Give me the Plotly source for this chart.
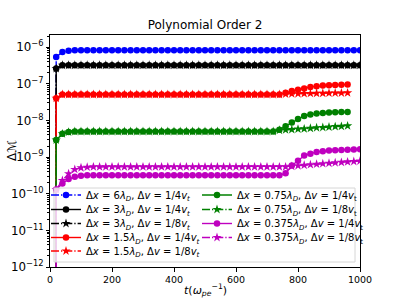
import plotly.graph_objects as go

# time grid (omega_pe^-1)
t = list(range(0, 1001, 20))

# Delta M values (first sample is zero)
blue_dx6_v4 = [0, 5.4e-7, 7.3e-7, 7.9e-7,
    8.2e-7, 8.2e-7, 8.2e-7, 8.2e-7, 8.2e-7, 8.2e-7, 8.2e-7, 8.2e-7, 8.2e-7, 8.2e-7,
    8.2e-7, 8.2e-7, 8.2e-7, 8.2e-7, 8.2e-7, 8.2e-7, 8.2e-7, 8.2e-7, 8.2e-7, 8.2e-7,
    8.2e-7, 8.2e-7, 8.2e-7, 8.2e-7, 8.2e-7, 8.2e-7, 8.2e-7, 8.2e-7, 8.2e-7, 8.2e-7,
    8.2e-7, 8.2e-7, 8.2e-7, 8.2e-7, 8.2e-7, 8.2e-7, 8.2e-7, 8.2e-7, 8.2e-7, 8.2e-7,
    8.2e-7, 8.2e-7, 8.2e-7, 8.2e-7, 8.2e-7, 8.2e-7, 8.2e-7]

black_dx3_v4 = [0, 2.6e-7,
    3.2e-7, 3.2e-7, 3.2e-7, 3.2e-7, 3.2e-7, 3.2e-7, 3.2e-7, 3.2e-7, 3.2e-7, 3.2e-7,
    3.2e-7, 3.2e-7, 3.2e-7, 3.2e-7, 3.2e-7, 3.2e-7, 3.2e-7, 3.2e-7, 3.2e-7, 3.2e-7,
    3.2e-7, 3.2e-7, 3.2e-7, 3.2e-7, 3.2e-7, 3.2e-7, 3.2e-7, 3.2e-7, 3.2e-7, 3.2e-7,
    3.2e-7, 3.2e-7, 3.2e-7, 3.2e-7, 3.2e-7, 3.2e-7, 3.2e-7, 3.2e-7, 3.2e-7, 3.2e-7,
    3.2e-7, 3.2e-7, 3.2e-7, 3.2e-7, 3.2e-7, 3.2e-7, 3.2e-7, 3.2e-7, 3.2e-7]

black_dx3_v8 = [0, 2.6e-7,
    3.2e-7, 3.2e-7, 3.2e-7, 3.2e-7, 3.2e-7, 3.2e-7, 3.2e-7, 3.2e-7, 3.2e-7, 3.2e-7,
    3.2e-7, 3.2e-7, 3.2e-7, 3.2e-7, 3.2e-7, 3.2e-7, 3.2e-7, 3.2e-7, 3.2e-7, 3.2e-7,
    3.2e-7, 3.2e-7, 3.2e-7, 3.2e-7, 3.2e-7, 3.2e-7, 3.2e-7, 3.2e-7, 3.2e-7, 3.2e-7,
    3.2e-7, 3.2e-7, 3.2e-7, 3.2e-7, 3.2e-7, 3.2e-7, 3.2e-7, 3.2e-7, 3.2e-7, 3.2e-7,
    3.2e-7, 3.2e-7, 3.2e-7, 3.2e-7, 3.2e-7, 3.2e-7, 3.2e-7, 3.2e-7, 3.2e-7]

red_dx15_v4 = [0, 4.0e-8,
    5.1e-8, 5.1e-8, 5.1e-8, 5.1e-8, 5.1e-8, 5.1e-8, 5.1e-8, 5.1e-8, 5.1e-8, 5.1e-8,
    5.1e-8, 5.1e-8, 5.1e-8, 5.1e-8, 5.1e-8, 5.1e-8, 5.1e-8, 5.1e-8, 5.1e-8, 5.1e-8,
    5.1e-8, 5.1e-8, 5.1e-8, 5.1e-8, 5.1e-8, 5.1e-8, 5.1e-8, 5.1e-8, 5.1e-8, 5.1e-8,
    5.1e-8, 5.1e-8, 5.1e-8, 5.1e-8, 5.1e-8, 5.1e-8,
    5.7e-8, 6.3e-8, 6.9e-8, 7.4e-8, 8.2e-8, 8.5e-8, 8.9e-8, 9.1e-8, 9.3e-8, 9.4e-8, 9.5e-8]

red_dx15_v8 = [0, 4.0e-8,
    5.1e-8, 5.1e-8, 5.1e-8, 5.1e-8, 5.1e-8, 5.1e-8, 5.1e-8, 5.1e-8, 5.1e-8, 5.1e-8,
    5.1e-8, 5.1e-8, 5.1e-8, 5.1e-8, 5.1e-8, 5.1e-8, 5.1e-8, 5.1e-8, 5.1e-8, 5.1e-8,
    5.1e-8, 5.1e-8, 5.1e-8, 5.1e-8, 5.1e-8, 5.1e-8, 5.1e-8, 5.1e-8, 5.1e-8, 5.1e-8,
    5.1e-8, 5.1e-8, 5.1e-8, 5.1e-8, 5.1e-8, 5.1e-8,
    5.2e-8, 5.3e-8, 5.35e-8, 5.4e-8, 5.45e-8, 5.5e-8, 5.5e-8, 5.55e-8, 5.6e-8, 5.6e-8, 5.65e-8]

green_dx075_v4 = [0, 2.9e-9, 4.3e-9, 4.8e-9,
    5.0e-9, 5.0e-9, 5.0e-9, 5.0e-9, 5.0e-9, 5.0e-9, 5.0e-9, 5.0e-9, 5.0e-9, 5.0e-9,
    5.0e-9, 5.0e-9, 5.0e-9, 5.0e-9, 5.0e-9, 5.0e-9, 5.0e-9, 5.0e-9, 5.0e-9, 5.0e-9,
    5.0e-9, 5.0e-9, 5.0e-9, 5.0e-9, 5.0e-9, 5.0e-9, 5.0e-9, 5.0e-9, 5.0e-9, 5.0e-9,
    5.0e-9, 5.0e-9, 5.0e-9,
    5.6e-9, 6.9e-9, 8.7e-9, 1.1e-8, 1.32e-8, 1.45e-8, 1.55e-8, 1.6e-8, 1.64e-8, 1.67e-8,
    1.69e-8, 1.7e-8]

green_dx075_v8 = [0, 2.9e-9, 4.3e-9, 4.8e-9,
    5.0e-9, 5.0e-9, 5.0e-9, 5.0e-9, 5.0e-9, 5.0e-9, 5.0e-9, 5.0e-9, 5.0e-9, 5.0e-9,
    5.0e-9, 5.0e-9, 5.0e-9, 5.0e-9, 5.0e-9, 5.0e-9, 5.0e-9, 5.0e-9, 5.0e-9, 5.0e-9,
    5.0e-9, 5.0e-9, 5.0e-9, 5.0e-9, 5.0e-9, 5.0e-9, 5.0e-9, 5.0e-9, 5.0e-9, 5.0e-9,
    5.0e-9, 5.0e-9, 5.0e-9,
    5.4e-9, 5.5e-9, 5.6e-9, 5.8e-9, 5.9e-9, 6.1e-9, 6.3e-9, 6.4e-9, 6.6e-9, 6.8e-9,
    6.9e-9, 7.1e-9]

magenta_dx0375_v4 = [0, 1.3e-10, 1.9e-10, 2.5e-10, 2.9e-10, 3.1e-10,
    3.2e-10, 3.2e-10, 3.2e-10, 3.2e-10, 3.2e-10, 3.2e-10, 3.2e-10, 3.2e-10,
    3.2e-10, 3.2e-10, 3.2e-10, 3.2e-10, 3.2e-10, 3.2e-10, 3.2e-10, 3.2e-10,
    3.2e-10, 3.2e-10, 3.2e-10, 3.2e-10, 3.2e-10, 3.2e-10, 3.2e-10, 3.2e-10,
    3.2e-10, 3.2e-10, 3.2e-10, 3.2e-10, 3.2e-10, 3.2e-10, 3.2e-10, 3.2e-10,
    3.6e-10,
    5.9e-10, 7.9e-10, 1.1e-9, 1.23e-9, 1.38e-9, 1.45e-9, 1.5e-9, 1.53e-9, 1.56e-9,
    1.58e-9, 1.6e-9, 1.62e-9]

magenta_dx0375_v8 = [0, 1.3e-10, 2.3e-10, 3.5e-10, 4.6e-10, 5.1e-10, 5.3e-10,
    5.4e-10, 5.4e-10, 5.4e-10, 5.4e-10, 5.4e-10, 5.4e-10, 5.4e-10, 5.4e-10,
    5.4e-10, 5.4e-10, 5.4e-10, 5.4e-10, 5.4e-10, 5.4e-10, 5.4e-10, 5.4e-10,
    5.4e-10, 5.4e-10, 5.4e-10, 5.4e-10, 5.4e-10, 5.4e-10, 5.4e-10, 5.4e-10,
    5.4e-10, 5.4e-10, 5.4e-10, 5.4e-10, 5.4e-10, 5.4e-10, 5.4e-10, 5.4e-10,
    5.6e-10, 5.8e-10, 6.0e-10, 6.2e-10, 6.4e-10, 6.6e-10, 6.8e-10, 7.0e-10, 7.2e-10,
    7.4e-10, 7.6e-10, 7.8e-10]

labels = [
    "Δ<i>x</i> = 6<i>λ</i><sub><i>D</i></sub>, Δ<i>v</i> = 1/4<i>v</i><sub><i>t</i></sub>",
    "Δ<i>x</i> = 3<i>λ</i><sub><i>D</i></sub>, Δ<i>v</i> = 1/4<i>v</i><sub><i>t</i></sub>",
    "Δ<i>x</i> = 3<i>λ</i><sub><i>D</i></sub>, Δ<i>v</i> = 1/8<i>v</i><sub><i>t</i></sub>",
    "Δ<i>x</i> = 1.5<i>λ</i><sub><i>D</i></sub>, Δ<i>v</i> = 1/4<i>v</i><sub><i>t</i></sub>",
    "Δ<i>x</i> = 1.5<i>λ</i><sub><i>D</i></sub>, Δ<i>v</i> = 1/8<i>v</i><sub><i>t</i></sub>",
    "Δ<i>x</i> = 0.75<i>λ</i><sub><i>D</i></sub>, Δ<i>v</i> = 1/4<i>v</i><sub>t</sub>",
    "Δ<i>x</i> = 0.75<i>λ</i><sub><i>D</i></sub>, Δ<i>v</i> = 1/8<i>v</i><sub>t</sub>",
    "Δ<i>x</i> = 0.375<i>λ</i><sub><i>D</i></sub>, Δ<i>v</i> = 1/4<i>v</i><sub>t</sub>",
    "Δ<i>x</i> = 0.375<i>λ</i><sub><i>D</i></sub>, Δ<i>v</i> = 1/8<i>v</i><sub>t</sub>",
]
series = [blue_dx6_v4, black_dx3_v4, black_dx3_v8, red_dx15_v4, red_dx15_v8,
          green_dx075_v4, green_dx075_v8, magenta_dx0375_v4, magenta_dx0375_v8]
colors = ["#0000ff", "#000000", "#000000", "#ff0000", "#ff0000",
          "#008000", "#008000", "#bf00bf", "#bf00bf"]
symbols = ["circle", "circle", "star", "circle", "star", "circle", "star", "circle", "star"]
DASHDOT = "8px,2px,1.3px,2px"
dashes = [DASHDOT, "solid", DASHDOT, "solid", DASHDOT, "solid", DASHDOT, "solid", DASHDOT]

# plot area in pixels
L, R, T, B = 50, 40, 35, 33
W, H = 400, 300
pw, ph = W - L - R, H - T - B

def px_to_paper_x(x):
    return (x - L) / pw

def px_to_paper_y(y):
    return (H - B - y) / ph

# legend row positions (pixels)
leg_pos = [(46, 195), (46, 209.5), (46, 223.5), (46, 237.5), (46, 251),
           (197, 195), (197, 209.5), (197, 223.5), (197, 237.5)]

fig = go.Figure()
for i, (vals, lab) in enumerate(zip(series, labels)):
    # mimic matplotlib's clipping of non-positive values on a log axis
    yplot = [v if v > 0 else 1e-300 for v in vals]
    lname = "legend" if i == 0 else f"legend{i+1}"
    ms = 6.5 if symbols[i] == "circle" else 7
    fig.add_trace(go.Scatter(
        x=t, y=yplot, name=lab, mode="lines+markers",
        line=dict(color=colors[i], width=1.4, dash=dashes[i]),
        marker=dict(color=colors[i], symbol=symbols[i], size=ms, line=dict(width=0)),
        legend=lname,
    ))

legends = {}
for i, (lx, ly) in enumerate(leg_pos):
    key = "legend" if i == 0 else f"legend{i+1}"
    legends[key] = dict(
        x=px_to_paper_x(lx), y=px_to_paper_y(ly), xanchor="left", yanchor="middle",
        bgcolor="rgba(0,0,0,0)", borderwidth=0,
        font=dict(family="DejaVu Sans", size=10, color="black"),
        itemwidth=30, tracegroupgap=0,
    )

fig.update_layout(
    width=W, height=H,
    margin=dict(l=L, r=R, t=T, b=B, autoexpand=False),
    paper_bgcolor="white", plot_bgcolor="white",
    font=dict(family="DejaVu Sans", size=9.5, color="black"),
    title=dict(text="Polynomial Order 2", x=(L + pw / 2) / W, xanchor="center",
               y=1 - 25 / H, yanchor="middle", yref="container",
               font=dict(family="DejaVu Sans", size=12, color="black")),
    showlegend=True,
    **legends,
    shapes=[dict(type="rect", xref="paper", yref="paper",
                 x0=px_to_paper_x(54), x1=px_to_paper_x(355),
                 y0=px_to_paper_y(262), y1=px_to_paper_y(188),
                 line=dict(color="#d6d6d6", width=1),
                 fillcolor="rgba(255,255,255,0.8)", layer="above")],
    annotations=[
        dict(text="<i>t</i>(<i>ω</i><sub><i>pe</i></sub><sup>−1</sup>)", xref="paper", yref="paper",
             x=0.5, y=px_to_paper_y(290), xanchor="center", yanchor="middle",
             showarrow=False, font=dict(family="DejaVu Sans", size=11, color="black")),
        dict(text="Δℳ", xref="paper", yref="paper",
             x=px_to_paper_x(12), y=0.5, xanchor="center", yanchor="middle",
             textangle=-90, showarrow=False,
             font=dict(family="DejaVu Sans", size=12, color="black")),
    ],
)

fig.update_xaxes(range=[0, 1000], dtick=200, tick0=0, showgrid=False, zeroline=False,
                 showline=True, linecolor="black", linewidth=1, mirror=True,
                 ticks="outside", ticklen=3.5, tickcolor="black",
                 tickfont=dict(family="DejaVu Sans", size=9.5, color="black"))
fig.update_yaxes(type="log", range=[-12, -5.67], dtick=1, exponentformat="power",
                 showgrid=False, zeroline=False,
                 showline=True, linecolor="black", linewidth=1, mirror=True,
                 ticks="outside", ticklen=3.5, tickcolor="black",
                 minor=dict(ticks="outside", ticklen=2, tickcolor="black", showgrid=False),
                 tickfont=dict(family="DejaVu Sans", size=9.5, color="black"))

fig.write_html("out.html", config={"displayModeBar": False},
               post_script="document.body.style.margin='0';")
